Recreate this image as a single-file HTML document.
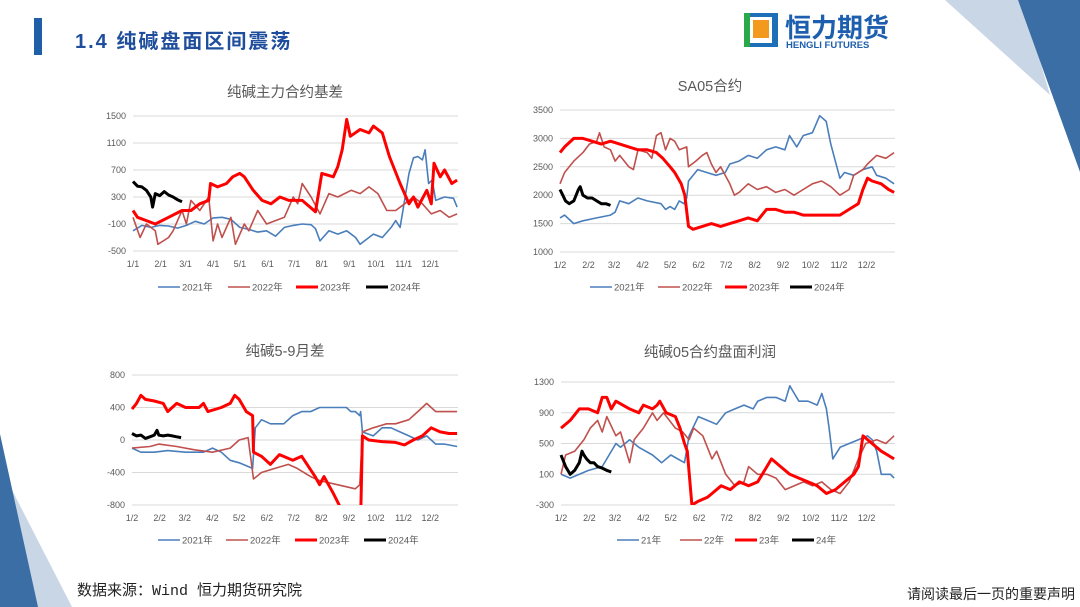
<!DOCTYPE html>
<html><head><meta charset="utf-8"><style>
html,body{margin:0;padding:0;background:#fff;}
#root{position:relative;width:1080px;height:607px;overflow:hidden;font-family:"Liberation Sans","Noto Sans CJK SC",sans-serif;}
</style></head><body>
<div id="root">
<svg id="svg" width="1080" height="607" viewBox="0 0 1080 607" xmlns="http://www.w3.org/2000/svg">
  <polygon points="945,0 1022,0 1050,95" fill="#c9d6e6"/>
  <polygon points="1018,0 1080,0 1080,172" fill="#3b6ea5"/>
  <polygon points="0,490 0,607 72,607 12,490" fill="#c9d6e6"/>
  <polygon points="0,434 38,607 0,607" fill="#3b6ea5"/>
  <rect x="34" y="18" width="8" height="37" fill="#1f5fa8"/>
  <text x="75" y="48" font-size="20" font-weight="bold" fill="#1f4e9c" letter-spacing="2" font-family="'Liberation Sans','Noto Sans CJK SC',sans-serif">1.4 纯碱盘面区间震荡</text>
  <g>
    <rect x="744" y="13" width="34" height="34" fill="#1d6fb8"/>
    <rect x="750" y="17" width="22" height="26" fill="#fff"/>
    <rect x="753" y="20" width="16" height="18" fill="#f39a1e"/>
    <rect x="744" y="13" width="6" height="34" fill="#2aa84a"/>
    <text x="785" y="37" font-size="26" font-weight="bold" fill="#1d5fae" font-family="'Noto Sans CJK SC',sans-serif">恒力期货</text>
    <text x="786" y="48" font-size="9.5" font-weight="bold" fill="#1d5fae">HENGLI FUTURES</text>
  </g>
  <text x="77" y="595" font-size="15" fill="#222" font-family="'Liberation Mono','Noto Sans CJK SC',monospace">数据来源：Wind  恒力期货研究院</text>
  <text x="1075" y="599" font-size="14" fill="#222" text-anchor="end" font-family="'Noto Sans CJK SC',sans-serif">请阅读最后一页的重要声明</text>
  <g id="charts"></g>
</svg>
</div>
<script>
// ---------- Chart 1: 纯碱主力合约基差 ----------
const c1Ticks = [1500,1100,700,300,-100,-500];
const c1Months = ["1/1","2/1","3/1","4/1","5/1","6/1","7/1","8/1","9/1","10/1","11/1","12/1"];
const c1d21 = [0,10,20,30,40,50,60,70,80,90,100,110,120,130,140,150,160,170,180,190,200,205,210,220,230,240,250,255,260,270,280,290,295,300,305,310,315,320,325,328,332,336,340,350,360,364];
const c1v21 = [-200,-120,-150,-120,-130,-160,-120,-60,-100,-10,0,-30,-150,-180,-220,-200,-280,-150,-120,-100,-110,-170,-350,-200,-250,-200,-300,-400,-350,-250,-300,-150,-50,-150,250,650,880,900,850,1000,500,550,250,300,280,150];
const c1d22 = [0,8,15,25,28,40,45,55,60,65,75,85,90,95,100,110,115,125,130,140,150,160,170,180,185,190,200,210,220,230,245,255,265,275,285,295,305,315,325,335,345,355,364];
const c1v22 = [0,-300,-100,-200,-400,-300,-200,100,-100,250,100,300,-350,-100,-300,0,-400,-100,-200,100,-100,-50,0,300,200,500,300,50,350,300,400,350,450,350,100,100,200,300,200,50,100,0,50];
const c1d23 = [0,5,15,25,40,55,65,75,85,87,95,105,112,120,125,135,145,155,165,175,190,205,212,225,230,235,240,244,255,265,270,280,288,300,310,315,320,330,335,338,345,350,358,364];
const c1v23 = [100,0,-50,-100,0,100,100,200,250,500,450,500,600,650,600,400,250,200,300,250,250,80,650,600,750,1000,1450,1200,1300,1250,1350,1250,900,500,200,300,150,400,200,800,600,700,500,550];
const c1d24 = [0,5,10,15,20,22,25,30,35,40,45,50,55];
const c1v24 = [530,460,450,400,300,150,350,320,380,330,300,260,230];

// ---------- Chart 2: SA05合约 ----------
const c2Ticks = [3500,3000,2500,2000,1500,1000];
const c2Months = ["1/2","2/2","3/2","4/2","5/2","6/2","7/2","8/2","9/2","10/2","11/2","12/2"];
const c2d21 = [0,5,15,25,40,55,60,65,75,85,95,110,115,120,125,130,135,138,140,150,160,170,180,185,195,205,215,225,235,245,250,258,265,275,283,290,295,300,305,310,320,330,340,345,355,364];
const c2v21 = [1600,1650,1500,1550,1600,1650,1700,1900,1850,1950,1900,1850,1750,1800,1750,1900,1850,1950,2250,2450,2400,2350,2400,2550,2600,2700,2650,2800,2850,2800,3050,2850,3050,3100,3400,3300,2900,2600,2300,2400,2350,2450,2500,2350,2300,2200];
const c2d22 = [0,5,15,25,32,40,43,48,55,60,65,75,80,85,95,100,105,110,115,120,125,130,138,140,148,155,160,165,170,175,185,190,195,205,215,225,235,245,255,265,275,285,295,305,315,320,330,335,345,355,364];
const c2v22 = [2200,2400,2600,2750,2900,2950,3100,2850,2800,2600,2700,2500,2450,2800,2750,2650,3050,3100,2800,3000,2950,2800,2850,2500,2600,2700,2750,2550,2400,2500,2200,2000,2050,2200,2100,2150,2050,2100,2000,2100,2200,2250,2150,2000,2100,2350,2450,2550,2700,2650,2750];
const c2d23 = [0,5,15,25,35,45,55,65,75,85,95,105,112,120,125,132,136,140,145,155,165,175,185,195,205,215,225,235,245,255,265,280,295,305,315,325,330,335,340,350,358,364];
const c2v23 = [2750,2850,3000,3000,2950,2900,2950,2900,2850,2800,2800,2750,2650,2500,2400,2200,2000,1450,1400,1450,1500,1450,1500,1550,1600,1550,1750,1750,1700,1700,1650,1650,1650,1650,1750,1850,2100,2300,2250,2200,2100,2050];
const c2d24 = [0,3,6,10,15,20,22,25,30,35,40,45,50,55];
const c2v24 = [2100,2000,1900,1850,1900,2100,2150,2000,1950,1950,1900,1850,1850,1820];

// ---------- Chart 3: 纯碱5-9月差 ----------
const c3Ticks = [800,400,0,-400,-800];
const c3Months = ["1/2","2/2","3/2","4/2","5/2","6/2","7/2","8/2","9/2","10/2","11/2","12/2"];
const c3d21 = [0,10,25,40,60,80,90,100,110,120,135,138,145,155,170,180,190,200,210,230,240,245,250,255,256,258,270,280,290,300,310,320,330,340,350,364];
const c3v21 = [-100,-150,-150,-130,-150,-150,-100,-150,-250,-280,-350,150,250,200,200,300,350,350,400,400,400,350,350,300,350,100,50,150,150,100,50,0,50,-50,-50,-80];
const c3d22 = [0,20,30,50,70,90,110,120,130,136,145,160,175,185,200,210,230,250,255,258,270,285,295,310,320,330,340,364];
const c3v22 = [-100,-80,-50,-80,-120,-150,-100,0,30,-480,-400,-350,-300,-350,-450,-500,-550,-600,-550,100,150,200,200,250,350,450,350,350];
const c3d23 = [0,5,10,15,25,35,40,50,60,75,80,85,100,110,115,120,128,135,136,145,155,165,180,190,205,210,215,220,225,232,240,250,256,258,265,280,295,305,315,325,335,345,355,364];
const c3v23 = [380,450,550,500,480,450,350,450,400,400,450,350,400,450,550,500,350,300,-150,-200,-300,-180,-250,-200,-450,-550,-450,-550,-650,-800,-1000,-1200,-1000,50,0,-20,-30,-60,0,50,150,100,80,80];
const c3d24 = [0,5,10,15,20,25,28,30,35,40,45,50,55];
const c3v24 = [80,50,60,20,40,60,120,60,50,60,50,40,30];

// ---------- Chart 4: 纯碱05合约盘面利润 ----------
const c4Ticks = [1300,900,500,100,-300];
const c4Months = ["1/2","2/2","3/2","4/2","5/2","6/2","7/2","8/2","9/2","10/2","11/2","12/2"];
const c4d21 = [0,10,20,30,45,50,60,65,75,85,100,110,120,135,140,150,160,170,180,190,200,210,215,225,235,245,250,255,260,270,280,285,290,293,297,305,315,325,335,340,345,350,360,364];
const c4v21 = [100,50,100,150,200,300,500,450,550,450,350,250,350,250,600,850,800,750,900,950,1000,950,1050,1100,1100,1050,1250,1150,1050,1050,1000,1150,950,700,300,450,500,550,600,550,400,100,100,50];
const c4d22 = [0,5,15,25,32,40,45,50,60,65,75,80,90,100,105,112,125,133,140,145,155,165,170,180,190,200,205,215,225,235,245,255,265,275,285,295,305,315,325,333,345,355,364];
const c4v22 = [100,350,400,550,700,800,650,850,600,650,250,550,700,900,800,900,700,650,550,700,600,300,400,100,-50,0,200,100,100,50,-100,-50,0,-50,0,-100,-150,0,300,500,550,500,600];
const c4d23 = [0,10,20,30,40,45,50,55,60,75,85,90,100,105,108,115,125,130,135,138,143,150,160,165,175,185,195,205,215,230,240,250,260,270,280,290,300,310,320,325,330,340,350,364];
const c4v23 = [700,800,950,950,900,1100,1100,950,1050,950,900,1000,950,1000,1050,900,850,700,500,400,-300,-250,-200,-150,-50,-100,0,-50,0,300,200,100,50,0,-50,-150,-100,0,100,200,600,500,400,300];
const c4d24 = [0,5,10,15,20,23,25,28,32,36,40,45,50,55];
const c4v24 = [350,200,100,150,250,400,350,300,250,250,200,180,150,130];

const NS = "http://www.w3.org/2000/svg";
const root = document.getElementById("charts");
const COLORS = ["#4a7ebb","#c0504d","#ff0000","#000000"];
const WIDTHS = [1.6,1.6,3,3];

function mk(tag, attrs, parent){
  const e = document.createElementNS(NS, tag);
  for (const k in attrs) e.setAttribute(k, attrs[k]);
  parent.appendChild(e);
  return e;
}

function drawChart(id, cfg, title, ticks, months, series, legendLabels){
  const g = mk("g", {}, root);
  
  
  const ymax = ticks[0], ymin = ticks[ticks.length-1];
  const yS = v => cfg.yTop + (ymax - v) / (ymax - ymin) * (cfg.yBot - cfg.yTop);
  const xS = d => cfg.x0 + d / 365 * (cfg.x1 - cfg.x0);
  const t = mk("text", {x: cfg.tx, y: cfg.ty, "font-size": 14.5, fill: "#595959", "text-anchor": "middle", "font-family": "'Liberation Sans','Noto Sans CJK SC',sans-serif"}, g);
  t.textContent = title;
  
  
  ticks.forEach(v => {
    const y = yS(v);
    const ln = mk("line", {x1: cfg.x0, x2: cfg.x1, y1: y, y2: y, stroke: "#d9d9d9", "stroke-width": 1}, g);
    
    
    const lb = mk("text", {x: cfg.x0 - 7, y: y + 3, "font-size": 9, fill: "#595959", "text-anchor": "end"}, g);
    lb.textContent = v;
    
    
  });
  const mStarts = [0,31,59,90,120,151,181,212,243,273,304,334];
  months.forEach((m, i) => {
    const lb = mk("text", {x: xS(mStarts[i]), y: cfg.yBot + 16, "font-size": 9, fill: "#595959", "text-anchor": "middle"}, g);
    lb.textContent = m;
    
    
  });
  const clipId = id + "-clip";
  const cp = mk("clipPath", {id: clipId}, g);
  mk("rect", {x: cfg.x0 - 2, y: cfg.yTop - 6, width: cfg.x1 - cfg.x0 + 4, height: cfg.yBot - cfg.yTop + 6}, cp);
  series.forEach((s, i) => {
    const pts = s[0].map((d, k) => xS(d).toFixed(1) + "," + yS(s[1][k]).toFixed(1)).join(" ");
    const pl = mk("polyline", {points: pts, fill: "none", stroke: COLORS[i], "stroke-width": WIDTHS[i], "stroke-linejoin": "round", "clip-path": "url(#" + clipId + ")"}, g);
    
    
  });
  legendLabels.forEach((lab, i) => {
    const lx = cfg.lx[i];
    const le = mk("g", {}, g);
    
    
    mk("line", {x1: lx, x2: lx + 22, y1: cfg.ly, y2: cfg.ly, stroke: COLORS[i], "stroke-width": WIDTHS[i]}, le);
    const lt = mk("text", {x: lx + 24, y: cfg.ly + 3.5, "font-size": 9.5, fill: "#595959", "font-family": "'Liberation Sans','Noto Sans CJK SC',sans-serif"}, le);
    lt.textContent = lab;
  });
}

drawChart("chart-basis", {x0:133, x1:458, yTop:116, yBot:251, tx:285, ty:97, ly:287, lx:[158,228,296,366]},
  "纯碱主力合约基差", c1Ticks, c1Months,
  [[c1d21,c1v21],[c1d22,c1v22],[c1d23,c1v23],[c1d24,c1v24]], ["2021年","2022年","2023年","2024年"]);
drawChart("chart-sa05", {x0:560, x1:895, yTop:110, yBot:252, tx:710, ty:91, ly:287, lx:[590,658,725,790]},
  "SA05合约", c2Ticks, c2Months,
  [[c2d21,c2v21],[c2d22,c2v22],[c2d23,c2v23],[c2d24,c2v24]], ["2021年","2022年","2023年","2024年"]);
drawChart("chart-spread", {x0:132, x1:458, yTop:375, yBot:505, tx:285, ty:356, ly:540, lx:[158,226,295,364]},
  "纯碱5-9月差", c3Ticks, c3Months,
  [[c3d21,c3v21],[c3d22,c3v22],[c3d23,c3v23],[c3d24,c3v24]], ["2021年","2022年","2023年","2024年"]);
drawChart("chart-profit", {x0:561, x1:895, yTop:382, yBot:505, tx:710, ty:357, ly:540, lx:[617,680,735,792]},
  "纯碱05合约盘面利润", c4Ticks, c4Months,
  [[c4d21,c4v21],[c4d22,c4v22],[c4d23,c4v23],[c4d24,c4v24]], ["21年","22年","23年","24年"]);
</script>
</body></html>
